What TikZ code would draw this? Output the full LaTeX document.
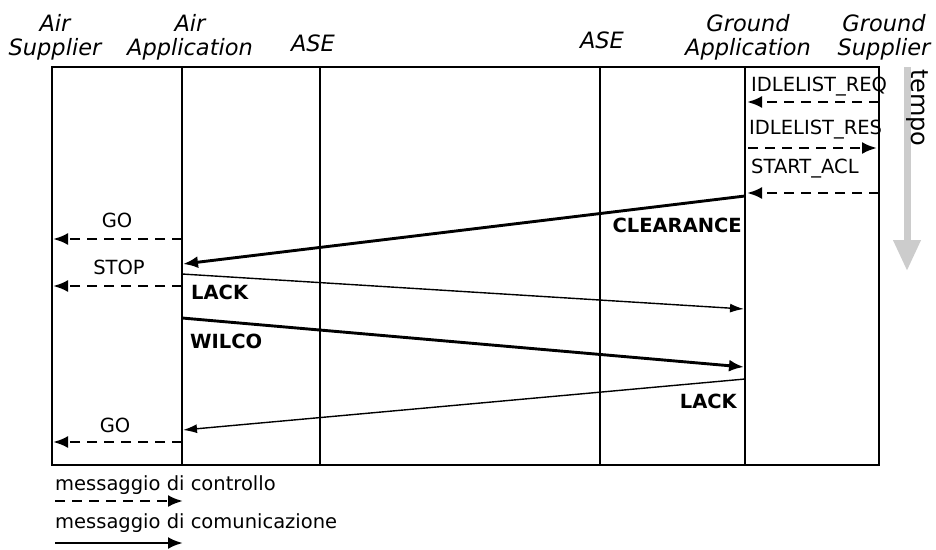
\documentclass[tikz,border=0pt]{standalone}
\usepackage{fontspec}
\setmainfont{DejaVu Sans}
\usetikzlibrary{arrows.meta}
\begin{document}
\begin{tikzpicture}[x=1pt,y=-1pt,
  frame/.style={line width=1.4pt},
  ctrl/.style={line width=2.7pt, dash pattern=on 10pt off 7pt, -{Latex[length=15pt,width=12pt]}},
  comm/.style={line width=2.9pt, -{Latex[length=15pt,width=12pt]}},
  ack/.style={line width=1.4pt, -{Latex[length=14pt,width=9pt]}},
  head/.style={font=\fontsize{22.5}{24}\selectfont\itshape, align=center, anchor=base, inner sep=0pt},
  msg/.style={font=\fontsize{19.5}{22}\selectfont, anchor=base, inner sep=0pt},
  bmsg/.style={font=\fontsize{19.5}{22}\selectfont\bfseries, anchor=base, inner sep=0pt},
]
\useasboundingbox (0,0) rectangle (936,549);

% column headings
\node[head] (hAS) at (55,55) {Air\\Supplier};
\node[head] (hAA) at (190,55) {Air\\Application};
\node[head] (hASE1) at (313,51) {ASE};
\node[head] (hASE2) at (602,48) {ASE};
\node[head] (hGA) at (748,55) {Ground\\Application};
\node[head] (hGS) at (884,55) {Ground\\Supplier};

% lifelines
\coordinate (L0t) at (52,67);  \coordinate (L0b) at (52,465);
\coordinate (L1t) at (182,67); \coordinate (L1b) at (182,465);
\coordinate (L2t) at (320,67); \coordinate (L2b) at (320,465);
\coordinate (L3t) at (600,67); \coordinate (L3b) at (600,465);
\coordinate (L4t) at (745,67); \coordinate (L4b) at (745,465);
\coordinate (L5t) at (879,67); \coordinate (L5b) at (879,465);
\draw[frame] (L0t) rectangle (L5b);
\foreach \i in {1,2,3,4} \draw[frame] (L\i t) -- (L\i b);

% time axis
\coordinate (tT) at (907,67);
\coordinate (tB) at (907,271);
\draw[line width=7pt, color=black!20, -{Triangle[length=31pt,width=26pt]}] (tT) -- (tB);
\node[rotate=-90, anchor=base west, inner sep=0pt, font=\fontsize{24}{26}\selectfont] (tempo) at (911,69) {tempo};

% message end points
\coordinate (reqA) at (879,102); \coordinate (reqB) at (747,102);
\coordinate (resA) at (748,148); \coordinate (resB) at (877,148);
\coordinate (aclA) at (879,193); \coordinate (aclB) at (747,193);
\coordinate (clrA) at (745,196); \coordinate (clrB) at (183,264);
\coordinate (go1A) at (182,239); \coordinate (go1B) at (53,239);
\coordinate (stpA) at (182,286); \coordinate (stpB) at (53,286);
\coordinate (lk1A) at (182,274); \coordinate (lk1B) at (744,309);
\coordinate (wilA) at (182,318); \coordinate (wilB) at (744,367);
\coordinate (lk2A) at (745,379); \coordinate (lk2B) at (183,430);
\coordinate (go2A) at (182,442); \coordinate (go2B) at (53,442);

% messages
\draw[ctrl] (reqA) -- (reqB);
\draw[ctrl] (resA) -- (resB);
\draw[ctrl] (aclA) -- (aclB);
\draw[comm] (clrA) -- (clrB);
\draw[ctrl] (go1A) -- (go1B);
\draw[ctrl] (stpA) -- (stpB);
\draw[ack]  (lk1A) -- (lk1B);
\draw[comm] (wilA) -- (wilB);
\draw[ack]  (lk2A) -- (lk2B);
\draw[ctrl] (go2A) -- (go2B);

% message labels
\node[msg, anchor=base west] (tReq) at (751,91) {IDLELIST\_REQ};
\node[msg, anchor=base west] (tRes) at (749,134) {IDLELIST\_RES};
\node[msg, anchor=base west] (tAcl) at (751,173) {START\_ACL};
\node[bmsg, anchor=base east] (tClr) at (742,232) {CLEARANCE};
\node[msg] (tGo1) at (117,227) {GO};
\node[msg] (tStp) at (119,274) {STOP};
\node[bmsg, anchor=base west] (tLk1) at (191,299) {LACK};
\node[bmsg, anchor=base west] (tWil) at (190,348) {WILCO};
\node[bmsg, anchor=base east] (tLk2) at (737,408) {LACK};
\node[msg] (tGo2) at (115,432) {GO};

% legend
\node[msg, anchor=base west] (lgC) at (55,490) {messaggio di controllo};
\coordinate (lgCa) at (55,501); \coordinate (lgCb) at (183,501);
\draw[ctrl] (lgCa) -- (lgCb);
\node[msg, anchor=base west] (lgM) at (55,528) {messaggio di comunicazione};
\coordinate (lgMa) at (55,543); \coordinate (lgMb) at (183,543);
\draw[comm] (lgMa) -- (lgMb);
\end{tikzpicture}
\end{document}
